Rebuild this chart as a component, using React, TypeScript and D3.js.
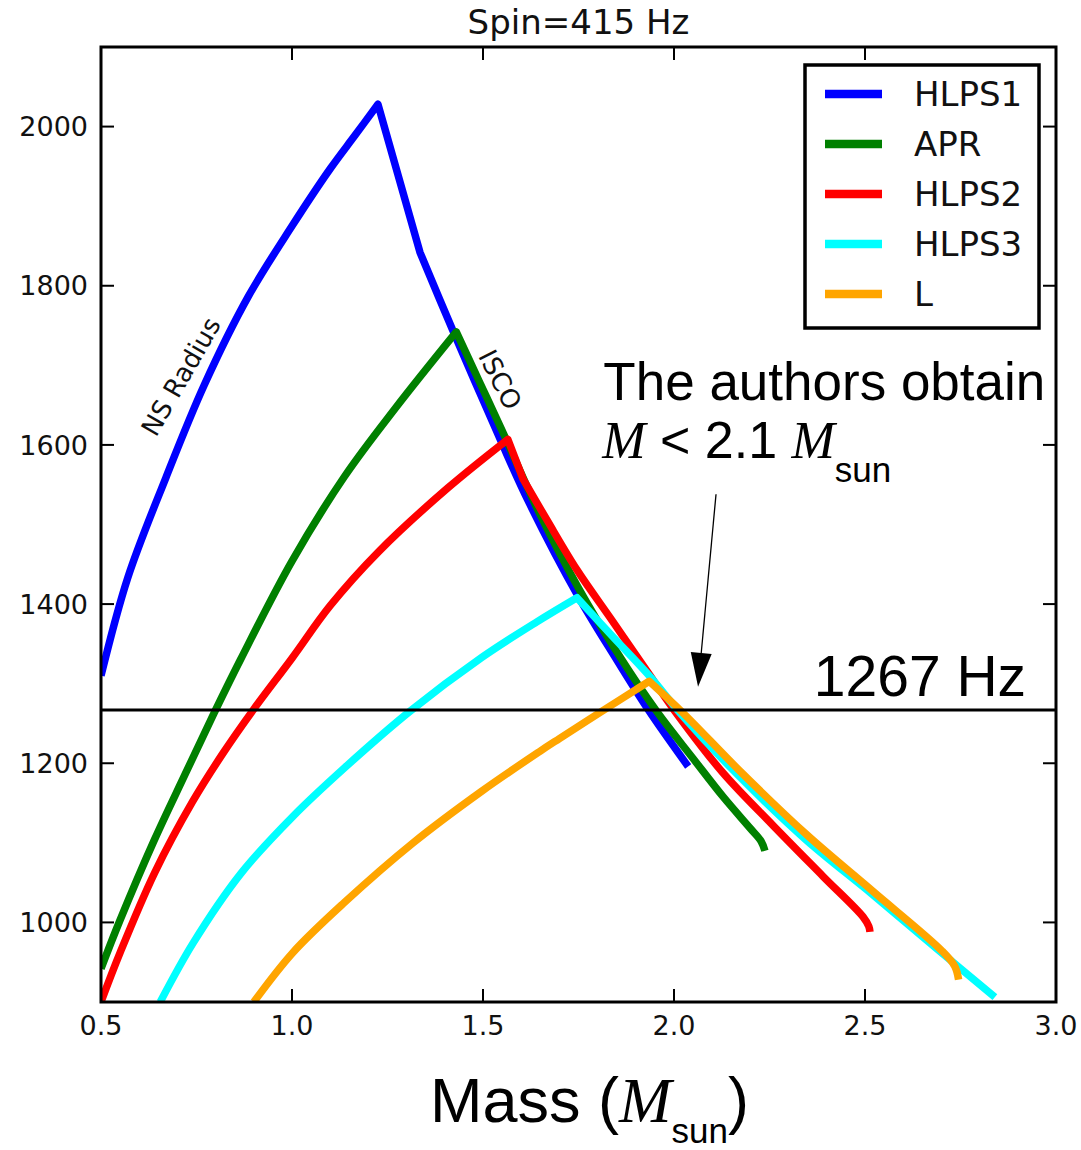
import React from "react";
import * as d3 from "d3";

// Axis ticks
const massTicks = [0.5, 1.0, 1.5, 2.0, 2.5, 3.0];
const freqTicks = [1000, 1200, 1400, 1600, 1800, 2000];
const limitFreq = 1267;

// Curves: [mass (M_sun), frequency (Hz)]
const hlps1: number[][] = [
  [0.5, 1310], [0.57, 1433], [0.67, 1559], [0.77, 1675], [0.885, 1786], [1.0, 1875],
  [1.1, 1947], [1.165, 1989], [1.225, 2028], [1.335, 1842], [1.42, 1745], [1.545, 1607],
  [1.62, 1528], [1.75, 1409], [1.85, 1330], [1.933, 1267], [2.037, 1196],
];
const apr: number[][] = [
  [0.5, 942], [0.55, 1003], [0.64, 1104], [0.72, 1186], [0.795, 1262], [0.866, 1331],
  [1.0, 1454], [1.137, 1560], [1.272, 1647], [1.43, 1742], [1.49, 1680], [1.55, 1618],
  [1.65, 1512], [1.75, 1420], [1.85, 1340], [1.955, 1265], [2.05, 1206], [2.13, 1157],
  [2.2, 1118], [2.228, 1102], [2.238, 1090],
];
const hlps2: number[][] = [
  [0.5, 900], [0.55, 962], [0.64, 1062], [0.74, 1152], [0.82, 1213], [0.9, 1268],
  [1.0, 1332], [1.1, 1398], [1.227, 1466], [1.408, 1546], [1.565, 1607], [1.605, 1557],
  [1.667, 1506], [1.746, 1443], [1.84, 1378], [1.929, 1316], [2.0, 1267], [2.128, 1188],
  [2.259, 1122], [2.39, 1058], [2.495, 1007], [2.51, 995], [2.513, 988],
];
const hlps3: number[][] = [
  [0.655, 900], [0.741, 974], [0.867, 1062], [1.002, 1133], [1.137, 1194], [1.308, 1265],
  [1.497, 1333], [1.642, 1378], [1.746, 1408], [1.84, 1359], [1.937, 1309], [2.02, 1261],
  [2.17, 1184], [2.345, 1104], [2.52, 1035], [2.69, 966], [2.84, 906],
];
const eosL: number[][] = [
  [0.9, 900], [1.002, 962], [1.137, 1025], [1.317, 1100], [1.497, 1165], [1.649, 1215],
  [1.7, 1231], [1.82, 1268], [1.935, 1303], [2.024, 1263], [2.173, 1190], [2.348, 1110],
  [2.521, 1039], [2.7, 965], [2.735, 945], [2.745, 928],
];

const seriesNames = ["HLPS1", "APR", "HLPS2", "HLPS3", "L"];
const seriesData = [hlps1, apr, hlps2, hlps3, eosL];
const seriesColors = ["#0000ff", "#008000", "#ff0000", "#00ffff", "#ffa500"];
// masses where a curve has a corner (radius limit -> ISCO switch, etc.)
const seriesCorners = [[1.225, 1.335], [1.43], [1.565, 1.605], [1.746], [1.935]];

// Annotation anchors in data coordinates
const arrowTail = [2.11, 1538];
const arrowTip = [2.063, 1296];
const noteLine1 = [1.815, 1657];
const noteLine2 = [1.812, 1584];
const limitLabel = [2.366, 1284];
const nsRadiusAt = [0.709, 1686];
const iscoAt = [1.545, 1682];

export default function App() {
  const W = 1081;
  const H = 1150;
  const left = 101, right = 1056, top = 47, bottom = 1002;
  const x = d3.scaleLinear().domain([0.5, 3.0]).range([left, right]);
  const y = d3.scaleLinear().domain([900, 2100]).range([bottom, top]);
  const smooth = d3
    .line<number[]>()
    .x((d) => x(d[0]))
    .y((d) => y(d[1]))
    .curve(d3.curveCatmullRom.alpha(0.5));

  // one continuous path: smooth pieces joined at the corners
  const curvePath = (data: number[][], corners: number[]) => {
    const pieces: number[][][] = [];
    let cur: number[][] = [];
    data.forEach((p) => {
      cur.push(p);
      if (corners.includes(p[0])) {
        pieces.push(cur);
        cur = [p];
      }
    });
    if (cur.length > 1) pieces.push(cur);
    return pieces
      .map((pc, i) => {
        const s = smooth(pc) || "";
        return i === 0 ? s : s.replace(/^M[^A-Za-z]*/, "");
      })
      .join("");
  };

  const sans = "DejaVu Sans, sans-serif";
  const arial = "Liberation Sans, Arial, sans-serif";
  const serif = "Liberation Serif, Times New Roman, serif";
  const tickLen = 13;

  // arrow geometry
  const tx = x(arrowTip[0]), ty = y(arrowTip[1]);
  const sx = x(arrowTail[0]), sy = y(arrowTail[1]);
  const len = Math.hypot(tx - sx, ty - sy);
  const ux = (tx - sx) / len, uy = (ty - sy) / len;
  const headLen = 34, headHalf = 10.5;
  const bx = tx - ux * headLen, by = ty - uy * headLen;
  const head = `${tx},${ty} ${bx - uy * headHalf},${by + ux * headHalf} ${bx + uy * headHalf},${by - ux * headHalf}`;

  const legendX = 805, legendY = 65, legendW = 234, legendH = 263;
  const rowY = (i: number) => 94 + i * 50;

  return (
    <div style={{ position: "absolute", left: 0, top: 0 }}>
      <svg width={W} height={H} style={{ display: "block", background: "#fff" }}>
        <defs>
          <clipPath id="plotArea">
            <rect x={left} y={top} width={right - left} height={bottom - top} />
          </clipPath>
        </defs>
        <rect x={0} y={0} width={W} height={H} fill="#fff" />

        {/* curves */}
        <g clipPath="url(#plotArea)">
          {seriesData.map((d, i) => (
            <path
              key={seriesNames[i]}
              d={curvePath(d, seriesCorners[i])}
              fill="none"
              stroke={seriesColors[i]}
              strokeWidth={7.5}
              strokeLinejoin="round"
              strokeLinecap="butt"
            />
          ))}
          <line x1={left} x2={right} y1={y(limitFreq)} y2={y(limitFreq)} stroke="#000" strokeWidth={3} />
        </g>

        {/* ticks */}
        {massTicks.map((t) => (
          <g key={"xt" + t}>
            <line x1={x(t)} x2={x(t)} y1={bottom} y2={bottom - tickLen} stroke="#000" strokeWidth={2} />
            <line x1={x(t)} x2={x(t)} y1={top} y2={top + tickLen} stroke="#000" strokeWidth={2} />
            <text x={x(t)} y={1035} textAnchor="middle" fontFamily={sans} fontSize={27} fill="#111">
              {t.toFixed(1)}
            </text>
          </g>
        ))}
        {freqTicks.map((t) => (
          <g key={"yt" + t}>
            <line x1={left} x2={left + tickLen} y1={y(t)} y2={y(t)} stroke="#000" strokeWidth={2} />
            <line x1={right} x2={right - tickLen} y1={y(t)} y2={y(t)} stroke="#000" strokeWidth={2} />
            <text x={88} y={y(t)} dy="0.36em" textAnchor="end" fontFamily={sans} fontSize={27} fill="#111">
              {t}
            </text>
          </g>
        ))}

        {/* frame */}
        <rect x={left} y={top} width={right - left} height={bottom - top} fill="none" stroke="#000" strokeWidth={3} />

        {/* title */}
        <text x={(left + right) / 2} y={34} textAnchor="middle" fontFamily={sans} fontSize={34} fill="#111">
          Spin=415 Hz
        </text>

        {/* curve labels */}
        <text
          transform={`translate(${x(nsRadiusAt[0])},${y(nsRadiusAt[1])}) rotate(-60)`}
          textAnchor="middle"
          dy="0.35em"
          fontFamily={sans}
          fontSize={26}
          fill="#111"
        >
          NS Radius
        </text>
        <text
          transform={`translate(${x(iscoAt[0])},${y(iscoAt[1])}) rotate(63)`}
          textAnchor="middle"
          dy="0.35em"
          fontFamily={sans}
          fontSize={26}
          fill="#111"
        >
          ISCO
        </text>

        {/* legend */}
        <rect x={legendX} y={legendY} width={legendW} height={legendH} fill="#fff" stroke="#000" strokeWidth={3.5} />
        {seriesNames.map((n, i) => (
          <g key={"lg" + n}>
            <line x1={825} x2={882} y1={rowY(i)} y2={rowY(i)} stroke={seriesColors[i]} strokeWidth={8.5} />
            <text x={914} y={rowY(i)} dy="0.36em" fontFamily={sans} fontSize={34} fill="#111">
              {n}
            </text>
          </g>
        ))}

        {/* annotation */}
        <text x={x(noteLine1[0])} y={y(noteLine1[1])} fontFamily={arial} fontSize={53} fill="#000">
          The authors obtain
        </text>
        <text x={x(noteLine2[0])} y={y(noteLine2[1])} fontFamily={arial} fontSize={52} fill="#000">
          <tspan fontFamily={serif} fontStyle="italic">M</tspan>
          <tspan>{" < 2.1 "}</tspan>
          <tspan fontFamily={serif} fontStyle="italic">M</tspan>
          <tspan fontSize={35} dy={24}>sun</tspan>
        </text>
        <line x1={sx} y1={sy} x2={bx} y2={by} stroke="#000" strokeWidth={1.3} />
        <polygon points={head} fill="#000" />
        <text x={x(limitLabel[0])} y={y(limitLabel[1])} fontFamily={arial} fontSize={57} fill="#000">
          1267 Hz
        </text>

        {/* x axis label */}
        <text x={430} y={1122} fontFamily={arial} fontSize={63} fill="#000">
          <tspan>Mass (</tspan>
          <tspan fontFamily={serif} fontStyle="italic">M</tspan>
          <tspan fontSize={35} dy={21}>sun</tspan>
          <tspan dy={-21}>)</tspan>
        </text>
      </svg>
    </div>
  );
}
